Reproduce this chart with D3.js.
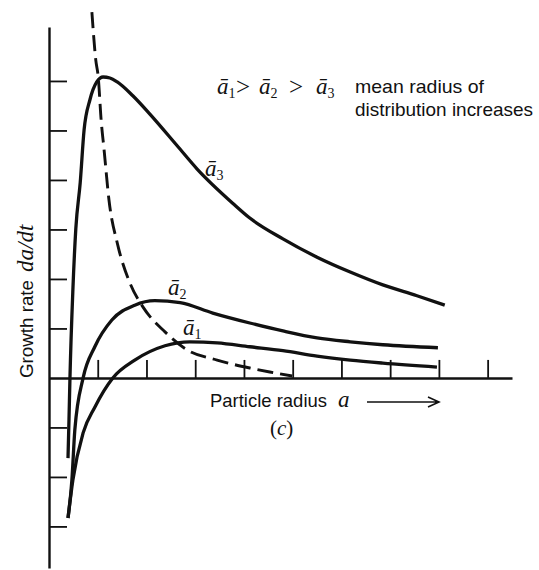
<!DOCTYPE html>
<html>
<head>
<meta charset="utf-8">
<script src="https://cdn.jsdelivr.net/npm/d3@7"></script>
<style>
  body { margin: 0; background: #fff; }
  svg { display: block; }
  .sans { font-family: "Liberation Sans", Arial, sans-serif; font-size: 19px; fill: #111; }
  .math { font-family: "Liberation Serif", "DejaVu Serif", serif; font-style: italic; fill: #111; }
  .upright { font-style: normal; }
</style>
</head>
<body>
<svg id="chart" width="539" height="570"></svg>
<script>
// tick positions (in tick units, no values printed on the original)
const xTicks = [1, 2, 3, 4, 5, 6, 7, 8, 9];
const yTicks = [-3, -2, -1, 1, 2, 3, 4, 5, 6];

// growth rate curves: [radius, growth rate]
const curveA3 = [
    [0.39, -1.62], [0.41, -0.85], [0.43, 0], [0.49, 1.78], [0.55, 3.01],
    [0.64, 3.94], [0.72, 5.01], [0.84, 5.62], [0.98, 5.98], [1.11, 6.08],
    [1.25, 6.06], [1.4, 5.98], [1.72, 5.7], [2.07, 5.33], [2.63, 4.69],
    [3.04, 4.22], [3.78, 3.52], [4.12, 3.23], [4.8, 2.81], [5.5, 2.44],
    [6.18, 2.14], [6.85, 1.88], [7.55, 1.66], [8.12, 1.47]
];
const curveA2 = [
    [0.39, -2.83], [0.47, -2.06], [0.53, -1.05], [0.7, 0], [0.94, 0.63],
    [1.29, 1.17], [1.76, 1.47], [2.17, 1.56], [2.69, 1.52], [3.36, 1.31],
    [4.12, 1.11], [4.8, 0.95], [5.5, 0.81], [6.18, 0.73], [6.85, 0.67],
    [7.98, 0.61]
];
const curveA1 = [
    [0.39, -2.83], [0.49, -2.06], [0.7, -1.11], [0.94, -0.59], [1.31, 0],
    [1.76, 0.36], [2.38, 0.65], [2.89, 0.73], [3.45, 0.71], [4.12, 0.63],
    [4.8, 0.55], [5.5, 0.44], [6.18, 0.36], [6.85, 0.3], [7.96, 0.22]
];
// dashed locus of the maxima
const curveMax = [
    [0.88, 7.39], [0.96, 6.42], [1.01, 6.08], [1.07, 5.21], [1.13, 4.61],
    [1.23, 3.6], [1.41, 2.69], [1.66, 1.92], [1.93, 1.43], [2.38, 0.93],
    [2.83, 0.57], [3.45, 0.36], [4.12, 0.2], [4.53, 0.12], [4.99, 0.04]
];

const labelA3 = [3.2, 4.08];
const labelA2 = [2.44, 1.68];
const labelA1 = [2.75, 0.87];

const svg = d3.select("#chart");

const x = d3.scaleLinear().domain([0, 9.5]).range([49, 512]);
const y = d3.scaleLinear().domain([-3.84, 7.09]).range([568, 27]);

// axes: plain ticks, no numbers
const yAxis = svg.append("g")
    .attr("transform", `translate(${x(0)},0)`)
    .call(d3.axisRight(y).tickValues(yTicks).tickSize(18).tickSizeOuter(0).tickFormat(""));

const xAxis = svg.append("g")
    .attr("transform", `translate(0,${y(0)})`)
    .call(d3.axisTop(x).tickValues(xTicks).tickSize(18).tickSizeOuter(0).tickFormat(""));

[yAxis, xAxis].forEach((ax) => {
    ax.select(".domain").attr("stroke", "#111").attr("stroke-width", 2.4);
    ax.selectAll(".tick line").attr("stroke", "#111").attr("stroke-width", 1.8);
});

const line = d3.line()
    .x((d) => x(d[0]))
    .y((d) => y(d[1]))
    .curve(d3.curveMonotoneX);

[curveA3, curveA2, curveA1].forEach((c) => {
    svg.append("path")
        .datum(c)
        .attr("d", line)
        .attr("fill", "none")
        .attr("stroke", "#111")
        .attr("stroke-width", 3.3)
        .attr("stroke-linejoin", "round");
});

svg.append("path")
    .datum(curveMax)
    .attr("d", line)
    .attr("fill", "none")
    .attr("stroke", "#111")
    .attr("stroke-width", 2.9)
    .attr("stroke-dasharray", "16,7");

// a-bar with subscript
function abar(px, py, sub) {
    const t = svg.append("text")
        .attr("class", "math")
        .attr("x", px)
        .attr("y", py)
        .style("font-size", "23px");
    t.append("tspan").text("ā");
    t.append("tspan")
        .attr("class", "upright")
        .attr("dy", 4)
        .attr("fill", "#111")
        .style("font-size", "14px")
        .text(sub);
    return t;
}

abar(x(labelA3[0]), y(labelA3[1]), "3");
abar(x(labelA2[0]), y(labelA2[1]), "2");
abar(x(labelA1[0]), y(labelA1[1]), "1");

// header relation
abar(217, 94, "1");
svg.append("text").attr("class", "math upright").attr("x", 236).attr("y", 95)
    .style("font-size", "25px").text(">");
abar(259, 94, "2");
svg.append("text").attr("class", "math upright").attr("x", 289).attr("y", 95)
    .style("font-size", "25px").text(">");
abar(316, 94, "3");

svg.append("text").attr("class", "sans").attr("x", 355).attr("y", 93)
    .attr("textLength", 129).attr("lengthAdjust", "spacingAndGlyphs").text("mean radius of");
svg.append("text").attr("class", "sans").attr("x", 355).attr("y", 116)
    .attr("textLength", 178).attr("lengthAdjust", "spacingAndGlyphs").text("distribution increases");

// axis titles
svg.append("text").attr("class", "sans").attr("x", 210).attr("y", 407)
    .attr("textLength", 117).attr("lengthAdjust", "spacingAndGlyphs").text("Particle radius");
svg.append("text").attr("class", "math").attr("x", 338).attr("y", 407)
    .style("font-size", "23px").text("a");

svg.append("path")
    .attr("d", "M367,402H439M428,397L439,402L428,407")
    .attr("fill", "none")
    .attr("stroke", "#111")
    .attr("stroke-width", 1.6);

const yt = svg.append("g").attr("transform", "translate(33,378) rotate(-90)");
yt.append("text").attr("class", "sans").attr("x", 0).attr("y", 0)
    .attr("textLength", 98).attr("lengthAdjust", "spacingAndGlyphs").text("Growth rate");
yt.append("text").attr("class", "math").attr("x", 106).attr("y", 0)
    .style("font-size", "23px").text("da/dt");

const cap = svg.append("text").attr("class", "math upright").attr("x", 270).attr("y", 435)
    .style("font-size", "21px");
cap.append("tspan").text("(");
cap.append("tspan").style("font-style", "italic").text("c");
cap.append("tspan").text(")");
</script>
</body>
</html>
